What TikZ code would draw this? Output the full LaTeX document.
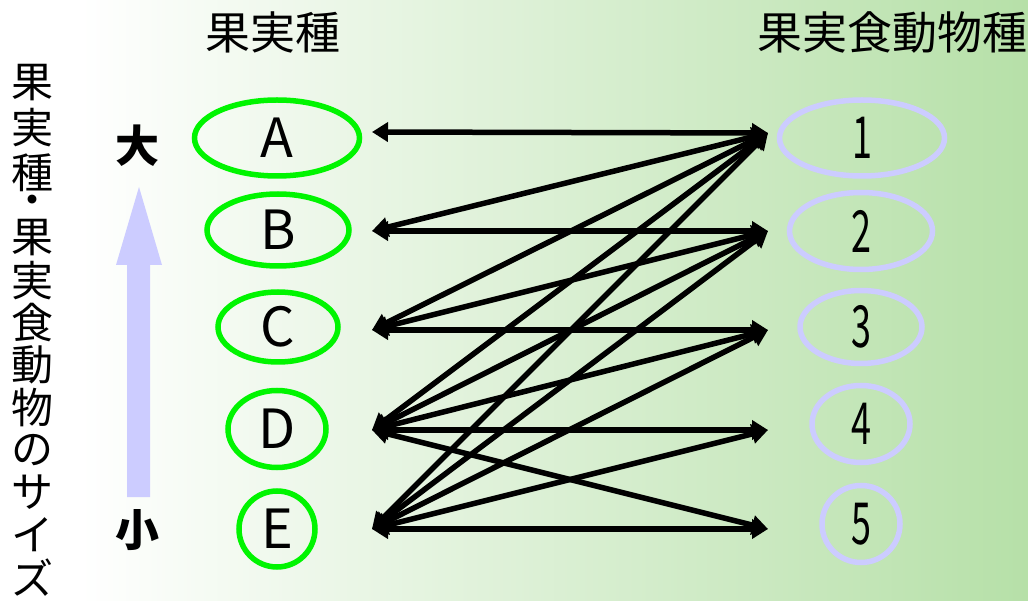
\documentclass[tikz,border=0pt]{standalone}
\usepackage{fontspec}
\usepackage{graphicx}
\setmainfont{Noto Sans CJK JP}
\usetikzlibrary{shapes.geometric,arrows.meta}
\definecolor{lgreen}{RGB}{0,245,0}
\definecolor{lav}{RGB}{204,204,255}
\definecolor{bgg}{RGB}{182,224,168}
\begin{document}
\begin{tikzpicture}[x=1pt,y=-1pt,
  fruit/.style={ellipse,draw=lgreen,line width=5.5pt,inner sep=0pt,font=\fontsize{54}{54}\selectfont},
  animal/.style={ellipse,draw=lav,line width=5.5pt,inner sep=0pt,font=\fontsize{58}{58}\selectfont},
  link/.style={line width=5.5pt,{Triangle[length=16pt,width=19pt]}-{Triangle[length=16pt,width=19pt]}},
  head/.style={inner sep=0pt,font=\fontsize{45}{45}\selectfont},
  vchar/.style={inner sep=0pt,font=\fontsize{42}{42}\selectfont},
  size/.style={inner sep=0pt,font=\fontsize{44}{44}\selectfont\bfseries}]
\useasboundingbox (0,0) rectangle (1028,601);
\fill[white] (0,0) rectangle (80,601);
\shade[left color=white,right color=bgg] (80,0) rectangle (1028,601);

% headings
\node[head] (hf) at (273,32) {果実種};
\node[head] (ha) at (892,32) {果実食動物種};

% vertical label
\foreach \c/\y [count=\i] in {果/83,実/128,種/173,果/238,実/280.4,食/322.8,動/365.2,物/407.6,の/450,サ/492.4,イ/534.8,ズ/577.2}
  \node[vchar] (v\i) at (32,\y) {\c};
\node[vchar] (vdot) at (32,216) {\smash{・}};

% size arrow
\fill[lav] (127,497) -- (127,265) -- (116,265) -- (139,187) -- (162,265) -- (150,265) -- (150,497) -- cycle;
\node[size] (big) at (137,146) {大};
\node[size] (small) at (137,530) {小};

% fruit species
\node[fruit,minimum width=165pt,minimum height=76pt] (A) at (277,138) {A};
\node[fruit,minimum width=142pt,minimum height=72pt] (B) at (278,230) {B};
\node[fruit,minimum width=120pt,minimum height=70pt] (C) at (278,327) {C};
\node[fruit,minimum width=98pt,minimum height=77pt] (D) at (277,429) {D};
\node[fruit,minimum width=76pt,minimum height=76pt] (E) at (277,529) {E};

% frugivore species
\node[animal,minimum width=165pt,minimum height=76pt] (n1) at (862,138) {\scalebox{0.62}[1]{1}};
\node[animal,minimum width=143pt,minimum height=77pt] (n2) at (861,231) {\scalebox{0.62}[1]{2}};
\node[animal,minimum width=122pt,minimum height=73pt] (n3) at (861,327) {\scalebox{0.62}[1]{3}};
\node[animal,minimum width=98pt,minimum height=77pt] (n4) at (861,424) {\scalebox{0.62}[1]{4}};
\node[animal,minimum width=78pt,minimum height=77pt] (n5) at (861,524) {\scalebox{0.62}[1]{5}};

% ports
\coordinate (L1) at (372,132);
\coordinate (L2) at (372,231);
\coordinate (L3) at (372,330);
\coordinate (L4) at (372,430);
\coordinate (L5) at (372,529);
\coordinate (R1) at (768,133);
\coordinate (R2) at (768,231);
\coordinate (R3) at (768,330);
\coordinate (R4) at (768,430);
\coordinate (R5) at (768,529);

% links
\foreach \a/\b in {L1/R1,L2/R1,L2/R2,L3/R1,L3/R2,L3/R3,L4/R1,L4/R2,L4/R3,L4/R4,L4/R5,L5/R1,L5/R2,L5/R3,L5/R4,L5/R5}
  \draw[link] (\a) -- (\b);
\end{tikzpicture}
\end{document}
